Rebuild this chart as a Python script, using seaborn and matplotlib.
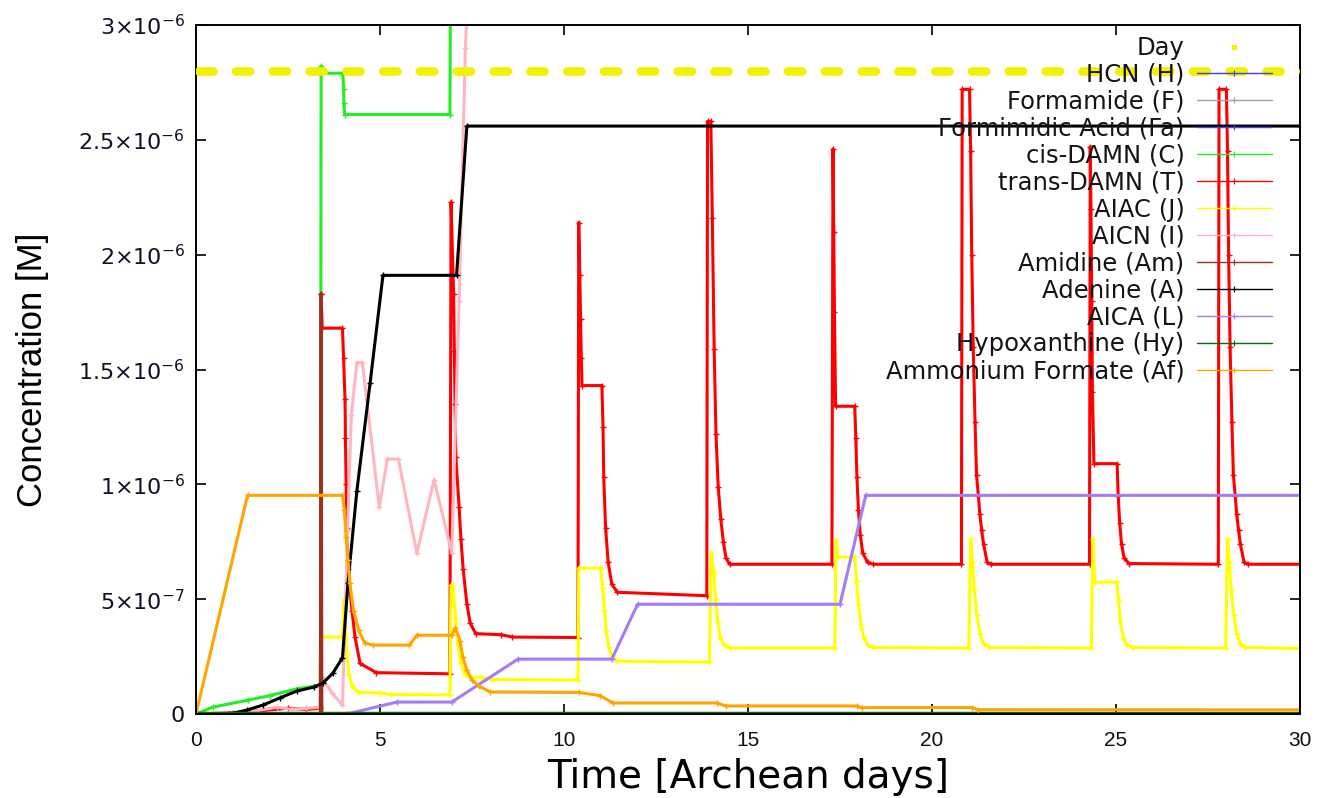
import matplotlib
matplotlib.use("Agg")
import matplotlib.pyplot as plt
from matplotlib.lines import Line2D
from matplotlib.ticker import FixedLocator, FuncFormatter
import numpy as np
import seaborn as sns

# Concentrations are listed in units of 1e-7 M, time in Archean days.
UNIT = 1e-7
T_MAX = 30.0

# Daylight indicator: constant level, lit from dawn to dusk of every day
day_level = 28.0
dawn, dusk = -0.05, 0.57

# Species that stay above the plotted range
hcn = []
formamide = []
formimidic_acid = []

cis_damn = [(0, 0), (0.46, 0.3), (1.4, 0.6), (2.0, 0.8), (2.75, 1.1), (3.38, 1.26),
            (3.40, 28.2), (3.43, 27.9), (3.99, 27.9), (4.01, 27.2), (4.02, 26.6),
            (4.04, 26.1), (6.90, 26.1), (6.92, 34.0)]

trans_damn = [(0, 0), (1.0, 0.05), (1.8, 0.15), (2.5, 0.25), (3.0, 0.2), (3.38, 0.25),
              (3.40, 18.3), (3.43, 16.8), (3.98, 16.8), (4.01, 15.5), (4.05, 13.7),
              (4.06, 12.0), (4.08, 10.0), (4.10, 8.1), (4.13, 6.3), (4.24, 4.5),
              (4.32, 3.35), (4.46, 2.2), (4.9, 1.8), (6.90, 1.75),
              (6.93, 22.3), (7.00, 18.3), (7.02, 15.8), (7.04, 13.5), (7.06, 11.2),
              (7.15, 9.0), (7.20, 7.6), (7.26, 6.3), (7.36, 4.8), (7.45, 3.96),
              (7.6, 3.5), (8.3, 3.45), (8.6, 3.35), (10.38, 3.33),
              (10.40, 21.4), (10.43, 19.1), (10.45, 17.2), (10.47, 15.5), (10.49, 14.3),
              (11.03, 14.3), (11.06, 12.5), (11.08, 10.3), (11.13, 8.1), (11.20, 6.6),
              (11.30, 5.65), (11.45, 5.3), (13.88, 5.15),
              (13.90, 25.8), (13.99, 25.8), (14.03, 21.6), (14.08, 15.9), (14.13, 12.2),
              (14.19, 9.9), (14.26, 8.5), (14.33, 7.5), (14.40, 6.8), (14.50, 6.52),
              (17.28, 6.52),
              (17.31, 24.6), (17.33, 21.0), (17.35, 17.5), (17.38, 13.4), (17.90, 13.4),
              (17.93, 12.0), (17.96, 10.3), (18.00, 8.9), (18.05, 7.8), (18.12, 7.0),
              (18.25, 6.6), (18.40, 6.52), (20.80, 6.52),
              (20.82, 27.2), (21.02, 27.2), (21.05, 24.5), (21.08, 20.0), (21.12, 16.0),
              (21.17, 12.7), (21.21, 10.4), (21.26, 9.5), (21.30, 8.7), (21.35, 8.0),
              (21.40, 7.4), (21.50, 6.6), (21.60, 6.52), (24.28, 6.52),
              (24.30, 24.7), (24.32, 22.0), (24.34, 18.0), (24.36, 14.0), (24.40, 10.9),
              (25.03, 10.9), (25.06, 9.5), (25.10, 8.3), (25.15, 7.4), (25.22, 6.8),
              (25.35, 6.55), (27.78, 6.52),
              (27.80, 27.2), (28.00, 27.2), (28.03, 24.5), (28.06, 20.0), (28.10, 16.0),
              (28.15, 12.7), (28.19, 10.4), (28.24, 9.5), (28.28, 8.7), (28.33, 8.0),
              (28.38, 7.4), (28.48, 6.6), (28.58, 6.52), (30.0, 6.52)]

aiac = [(0, 0), (3.38, 0), (3.40, 3.35), (3.98, 3.35), (4.02, 4.96), (4.06, 3.8),
        (4.10, 2.6), (4.16, 1.7), (4.25, 1.2), (4.4, 0.95), (5.0, 0.91), (5.3, 0.85),
        (6.90, 0.83), (6.93, 5.6), (6.98, 5.6), (7.05, 4.2), (7.12, 3.0), (7.20, 2.2),
        (7.30, 1.75), (7.45, 1.6), (7.75, 1.6), (8.05, 1.5), (10.38, 1.48),
        (10.40, 6.35), (11.00, 6.35), (11.05, 5.5), (11.10, 4.5), (11.15, 3.6),
        (11.22, 2.9), (11.30, 2.5), (11.45, 2.3), (13.95, 2.26),
        (14.00, 7.0), (14.07, 6.2), (14.12, 5.0), (14.18, 4.0), (14.25, 3.3),
        (14.35, 3.0), (14.50, 2.88), (17.36, 2.87),
        (17.39, 7.57), (17.44, 6.83), (17.90, 6.83), (17.95, 5.8), (18.00, 4.8),
        (18.07, 3.9), (18.15, 3.3), (18.25, 3.0), (18.40, 2.9), (21.00, 2.87),
        (21.05, 7.6), (21.10, 6.6), (21.15, 5.4), (21.22, 4.3), (21.30, 3.5),
        (21.40, 3.05), (21.55, 2.9), (24.33, 2.87),
        (24.37, 7.6), (24.42, 5.74), (25.02, 5.74), (25.07, 4.9), (25.12, 4.0),
        (25.20, 3.3), (25.30, 3.0), (25.45, 2.9), (27.98, 2.87),
        (28.03, 7.6), (28.08, 6.6), (28.13, 5.4), (28.20, 4.3), (28.28, 3.5),
        (28.38, 3.05), (28.50, 2.9), (30.0, 2.85)]

aicn = [(0, 0), (1.0, 0), (1.5, 0.1), (2.2, 0.3), (2.6, 0.2), (3.0, 0.25), (3.36, 0.3),
        (3.42, 1.6), (3.7, 0.9), (3.98, 0.4), (4.12, 8.0), (4.22, 13.0), (4.37, 15.3),
        (4.52, 15.3), (4.98, 9.0), (5.2, 11.1), (5.5, 11.1), (6.0, 7.0), (6.47, 10.2),
        (6.95, 7.0), (7.15, 18.0), (7.32, 29.0), (7.50, 36.0)]

amidine = [(0, 0), (3.38, 0), (3.40, 18.3), (3.42, 0), (30.0, 0)]

adenine = [(0, 0), (0.9, 0), (1.38, 0.17), (1.82, 0.39), (2.28, 0.7), (2.74, 1.0),
           (3.2, 1.17), (3.45, 1.35), (3.72, 1.78), (3.98, 2.45), (4.13, 5.7),
           (4.37, 9.7), (4.73, 14.4), (5.08, 19.1), (7.08, 19.1), (7.36, 25.6),
           (30.0, 25.6)]

aica = [(0, 0), (4.1, 0), (5.46, 0.52), (6.95, 0.52), (8.75, 2.39), (11.3, 2.39),
        (12.0, 4.78), (17.5, 4.78), (18.2, 9.52), (30.0, 9.52)]

hypoxanthine = [(0, 0), (30.0, 0)]

ammonium_formate = [(0, 0), (1.4, 9.52), (3.98, 9.52), (4.03, 8.9), (4.08, 7.7),
                    (4.13, 6.7), (4.18, 5.7), (4.28, 4.5), (4.42, 3.65), (4.58, 3.1),
                    (4.8, 3.0), (5.8, 3.0), (6.0, 3.43), (6.95, 3.43), (7.05, 3.74),
                    (7.17, 3.2), (7.25, 2.48), (7.36, 1.9), (7.5, 1.48), (7.7, 1.2),
                    (8.0, 0.96), (10.4, 0.94), (10.98, 0.8), (11.33, 0.48), (14.15, 0.48),
                    (14.4, 0.35), (17.95, 0.35), (18.1, 0.28), (21.1, 0.28), (21.25, 0.19),
                    (30.0, 0.18)]

day_color = "#f2f200"
species = [
    ("HCN (H)", hcn, "#3c3cff"),
    ("Formamide (F)", formamide, "#a0a0a0"),
    ("Formimidic Acid (Fa)", formimidic_acid, "#4848e0"),
    ("cis-DAMN (C)", cis_damn, "#22ee22"),
    ("trans-DAMN (T)", trans_damn, "#ff0000"),
    ("AIAC (J)", aiac, "#ffff00"),
    ("AICN (I)", aicn, "#ffb6c1"),
    ("Amidine (Am)", amidine, "#a0301e"),
    ("Adenine (A)", adenine, "#000000"),
    ("AICA (L)", aica, "#a47cf4"),
    ("Hypoxanthine (Hy)", hypoxanthine, "#0a6a0a"),
    ("Ammonium Formate (Af)", ammonium_formate, "#ffa500"),
]

x_ticks = [0, 5, 10, 15, 20, 25, 30]
y_ticks = [0, 5, 10, 15, 20, 25, 30]

sns.set_theme(style="white")
plt.rcParams["font.family"] = ["DejaVu Sans"]
plt.rcParams["mathtext.fontset"] = "dejavusans"

W, H = 1319, 798
fig = plt.figure(figsize=(W / 100, H / 100), dpi=100)
ax = fig.add_axes([196 / W, 84 / H, 1104 / W, 689 / H])
ax.set_facecolor("white")

# Day indicator as a thick dashed line whose period is one day
ax_w_pt = ax.get_position().width * fig.get_figwidth() * 72
pt_per_day = ax_w_pt / T_MAX
lw_pt = 6.3
cap_days = lw_pt / 2 / pt_per_day
on_pt = (dusk - dawn) * pt_per_day - lw_pt
off_pt = pt_per_day - on_pt
sns.lineplot(x=[dawn + cap_days - 1, T_MAX + 1], y=[day_level * UNIT] * 2, ax=ax,
             color=day_color, lw=lw_pt, linestyle=(0, (on_pt / lw_pt, off_pt / lw_pt)),
             dash_capstyle="round", estimator=None, sort=False, legend=False, zorder=3)

handles = [Line2D([], [], ls="none", marker="s", ms=2.5, color=day_color)]
labels = ["Day"]
for name, pts, col in species:
    if pts:
        t = np.array([p[0] for p in pts])
        c = np.array([p[1] for p in pts]) * UNIT
        lw = 3.2 if name.startswith("Hypox") else 2.2
        sns.lineplot(x=t, y=c, ax=ax, color=col, lw=lw, marker="+", markersize=5,
                     markeredgecolor=col, mew=1.0, estimator=None, sort=False,
                     legend=False, zorder=2)
    handles.append(Line2D([], [], color=col, lw=1.0, marker="+", ms=4, mew=0.8))
    labels.append(name)

ax.set_xlim(0, T_MAX)
ax.set_ylim(0, 30 * UNIT)
ax.xaxis.set_major_locator(FixedLocator(x_ticks))
ax.yaxis.set_major_locator(FixedLocator([v * UNIT for v in y_ticks]))


def sci_label(v, _pos):
    if v == 0:
        return "0"
    exp = int(np.floor(np.log10(abs(v)) + 1e-9))
    mant = v / 10 ** exp
    mant_s = f"{mant:g}"
    return rf"${mant_s}{{\times}}10^{{{exp}}}$"


ax.yaxis.set_major_formatter(FuncFormatter(sci_label))
ax.tick_params(axis="both", direction="in", length=7, width=1.2, color="black",
               top=True, right=True, bottom=True, left=True)
ax.tick_params(axis="y", labelsize=16, pad=8, labelcolor="#101028")
ax.tick_params(axis="x", labelsize=15, pad=12, labelcolor="#101010")
for lab in ax.get_xticklabels():
    lab.set_family(["Liberation Sans", "DejaVu Sans"])

for sp in ax.spines.values():
    sp.set_color("black")
    sp.set_linewidth(1.4)
    sp.set_visible(True)

ax.set_xlabel("Time [Archean days]", fontsize=28, labelpad=6, color="black")
ax.set_ylabel("Concentration [M]", fontsize=25, color="black",
              family=["Liberation Sans", "DejaVu Sans"])
ax.yaxis.set_label_coords((49 - 196) / 1104, 0.5)

leg = ax.legend(handles, labels, loc="upper right", bbox_to_anchor=(0.9746, 0.984),
                frameon=False, markerfirst=False, fontsize=17.5, labelspacing=0.12,
                handlelength=3.1, handletextpad=0.5, borderpad=0, borderaxespad=0)
for txt in leg.get_texts():
    txt.set_color("#141414")

fig.savefig("out.png", dpi=100, facecolor="white")
